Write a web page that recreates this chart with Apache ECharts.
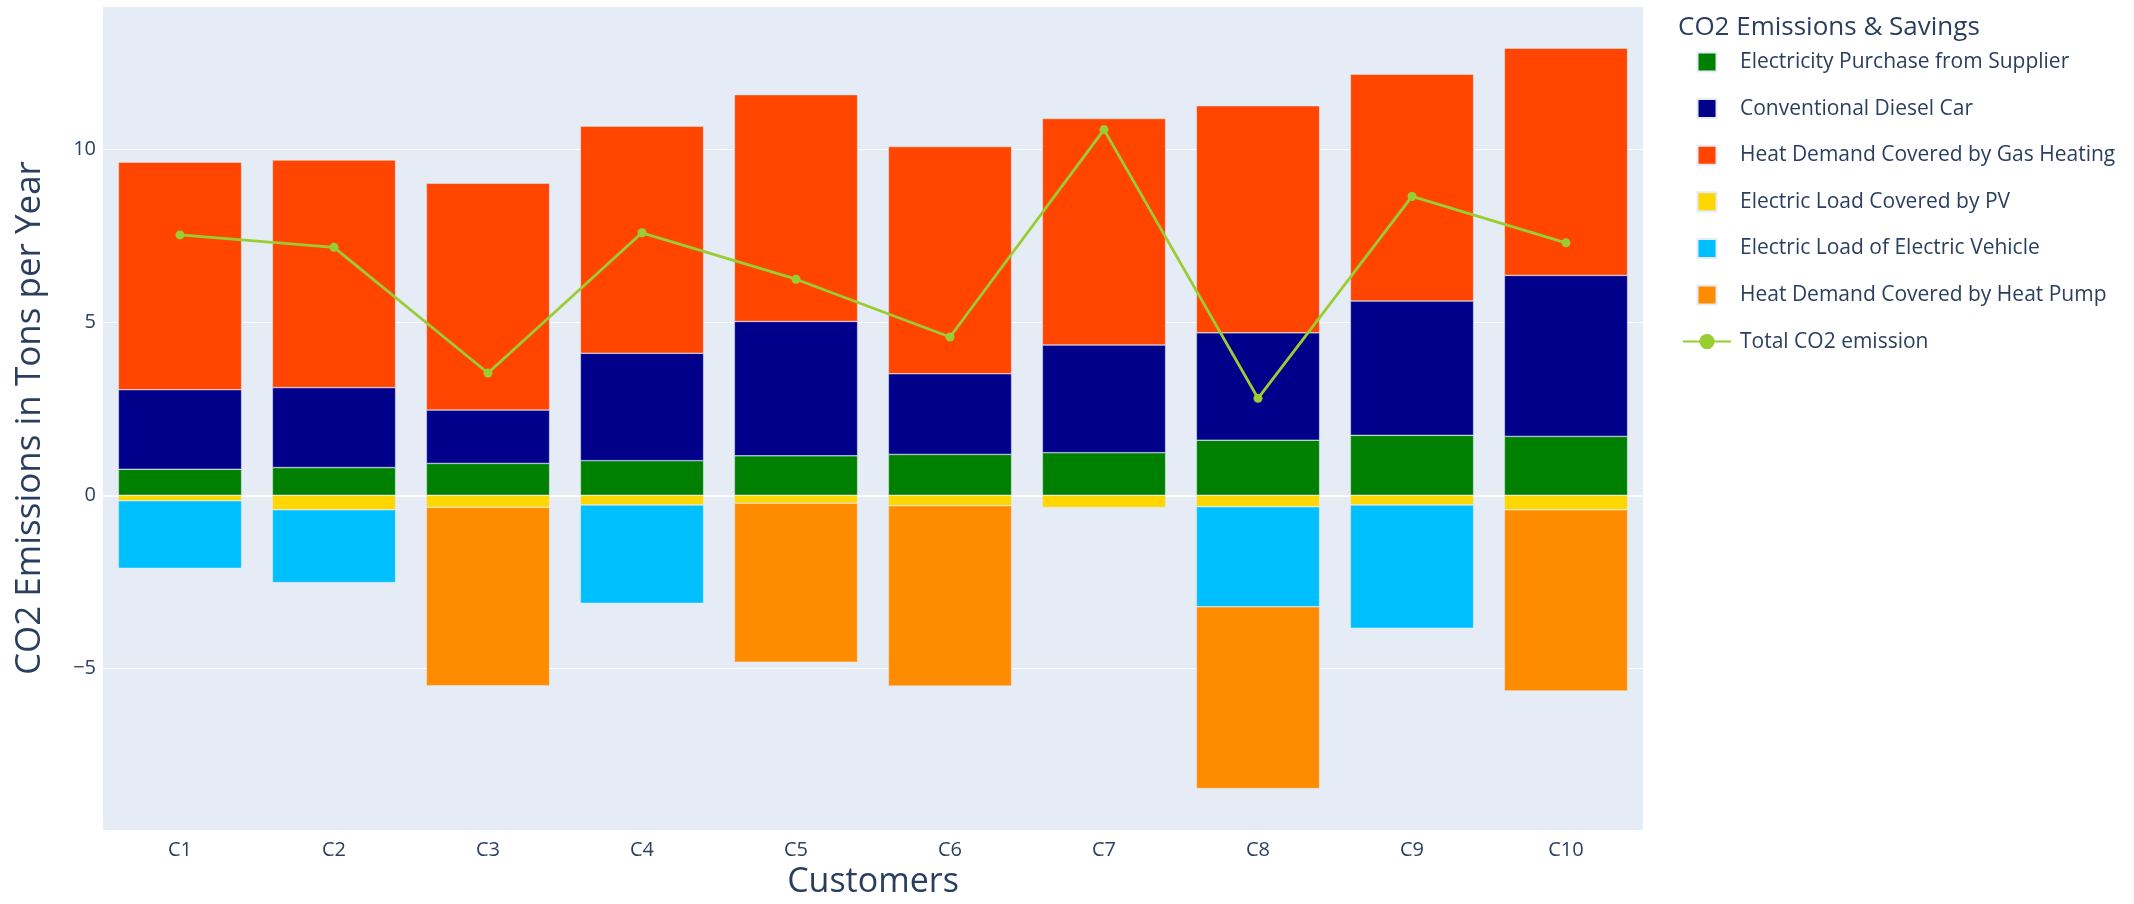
<!DOCTYPE html>
<html>
<head>
<meta charset="utf-8">
<title>CO2 Emissions & Savings</title>
<script src="https://cdn.jsdelivr.net/npm/echarts@6/dist/echarts.min.js"></script>
<style>
  html, body { margin: 0; padding: 0; background: #ffffff; }
  #chart { width: 2134px; height: 904px; }
</style>
</head>
<body>
<div id="chart"></div>
<script>
// Customers on the x axis
const categories = ['C1', 'C2', 'C3', 'C4', 'C5', 'C6', 'C7', 'C8', 'C9', 'C10'];

// Emissions (tons CO2 per year), stacked upwards
const electricityPurchase = [0.75, 0.80, 0.92, 1.00, 1.14, 1.18, 1.23, 1.59, 1.73, 1.70];
const dieselCar           = [2.30, 2.31, 1.54, 3.10, 3.88, 2.33, 3.11, 3.10, 3.88, 4.65];
const gasHeating          = [6.57, 6.57, 6.55, 6.56, 6.55, 6.56, 6.54, 6.56, 6.55, 6.56];

// Savings (negative), stacked downwards
const pvLoad   = [-0.16, -0.42, -0.35, -0.28, -0.23, -0.30, -0.35, -0.33, -0.28, -0.42];
const evLoad   = [-1.95, -2.10, 0, -2.84, 0, 0, 0, -2.89, -3.56, 0];
const heatPump = [0, 0, -5.15, 0, -4.59, -5.21, 0, -5.25, 0, -5.23];

// Net total per customer
const totalEmission = [7.52, 7.16, 3.53, 7.58, 6.24, 4.57, 10.56, 2.80, 8.63, 7.29];

const FONT = '"Open Sans", "DejaVu Sans", sans-serif';
const TEXT = '#2a3f5f';
const BG = '#E5ECF6';

// absent segments are left out rather than drawn with zero height
const segs = arr => arr.map(v => (v === 0 ? null : v));

function barSeries(name, data, color) {
  return {
    name: name,
    type: 'bar',
    stack: 'co2',
    barCategoryGap: '20%',
    data: segs(data),
    itemStyle: { color: color, borderColor: BG, borderWidth: 0.5 },
    emphasis: { disabled: true },
    z: 2
  };
}

const squareIcon = 'path://M0 0H10V10H0Z';

const chart = echarts.init(document.getElementById('chart'), null, { renderer: 'canvas' });

chart.setOption({
  animation: false,
  backgroundColor: '#ffffff',
  textStyle: { fontFamily: FONT },
  title: {
    text: 'CO2 Emissions & Savings',
    left: 1678,
    top: 15,
    padding: 0,
    textStyle: { fontFamily: FONT, fontSize: 26, fontWeight: 'normal', color: TEXT }
  },
  legend: {
    orient: 'vertical',
    left: 1682,
    top: 51,
    padding: 0,
    itemWidth: 48,
    itemHeight: 19,
    itemGap: 24.6,
    selectedMode: false,
    textStyle: { fontFamily: FONT, fontSize: 21, lineHeight: 22, color: TEXT, padding: [0, 0, 0, 4] },
    data: [
      { name: 'Electricity Purchase from Supplier', icon: squareIcon },
      { name: 'Conventional Diesel Car', icon: squareIcon },
      { name: 'Heat Demand Covered by Gas Heating', icon: squareIcon },
      { name: 'Electric Load Covered by PV', icon: squareIcon },
      { name: 'Electric Load of Electric Vehicle', icon: squareIcon },
      { name: 'Heat Demand Covered by Heat Pump', icon: squareIcon },
      { name: 'Total CO2 emission' }
    ]
  },
  grid: {
    left: 103,
    right: 491,
    top: 6,
    bottom: 62,
    show: true,
    backgroundColor: BG,
    borderWidth: 0
  },
  xAxis: {
    type: 'category',
    data: categories,
    axisLine: { show: false },
    axisTick: { show: false },
    splitLine: { show: false },
    axisLabel: { fontFamily: FONT, fontSize: 20, color: TEXT, margin: 10 },
    name: 'Customers',
    nameLocation: 'middle',
    nameGap: 31,
    nameTextStyle: { fontFamily: FONT, fontSize: 34, color: TEXT }
  },
  yAxis: {
    type: 'value',
    min: -9.67,
    max: 14.13,
    splitNumber: 5,
    axisLine: { show: false },
    axisTick: { show: false },
    splitLine: { show: true, lineStyle: { color: '#ffffff', width: 1 } },
    axisLabel: {
      fontFamily: FONT,
      fontSize: 20,
      color: TEXT,
      margin: 7,
      showMinLabel: false,
      showMaxLabel: false,
      formatter: v => (Math.abs(v % 5) > 1e-9 ? '' : (v < 0 ? '\u2212' + Math.abs(v) : String(v)))
    },
    name: 'CO2 Emissions in Tons per Year',
    nameLocation: 'middle',
    nameGap: 55,
    nameRotate: 90,
    nameTextStyle: { fontFamily: FONT, fontSize: 35, color: TEXT }
  },
  series: [
    barSeries('Electricity Purchase from Supplier', electricityPurchase, '#008000'),
    barSeries('Conventional Diesel Car', dieselCar, '#00008B'),
    barSeries('Heat Demand Covered by Gas Heating', gasHeating, '#FF4500'),
    barSeries('Electric Load Covered by PV', pvLoad, '#FFD700'),
    barSeries('Electric Load of Electric Vehicle', evLoad, '#00BFFF'),
    barSeries('Heat Demand Covered by Heat Pump', heatPump, '#FF8C00'),
    {
      name: 'Total CO2 emission',
      type: 'line',
      data: totalEmission,
      symbol: 'circle',
      symbolSize: 9,
      lineStyle: { color: '#9ACD32', width: 2.8 },
      itemStyle: { color: '#9ACD32' },
      emphasis: { disabled: true },
      z: 4,
      // zero line, a little heavier than the grid, beneath the bars
      markLine: {
        silent: true,
        symbol: 'none',
        z: 1,
        label: { show: false },
        lineStyle: { color: '#ffffff', width: 2, type: 'solid' },
        data: [{ yAxis: 0 }]
      }
    }
  ]
});
</script>
</body>
</html>
